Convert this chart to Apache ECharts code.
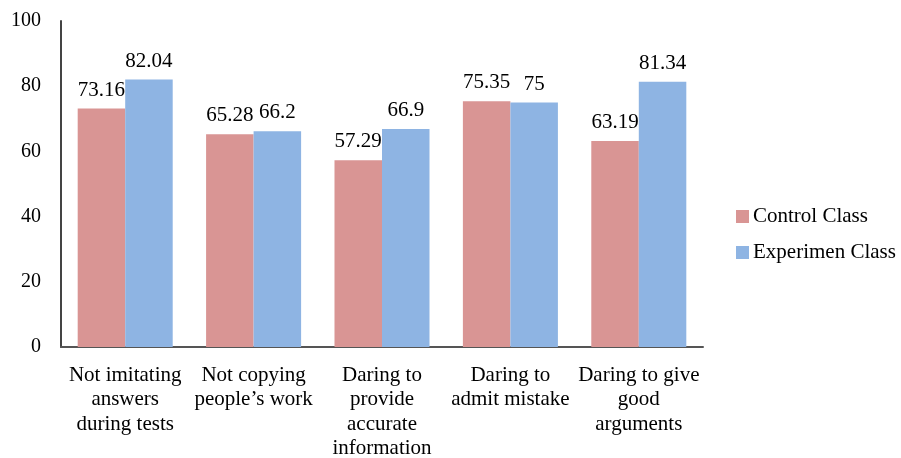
<!DOCTYPE html>
<html>
<head>
<meta charset="utf-8">
<script src="https://cdn.jsdelivr.net/npm/echarts@6/dist/echarts.min.js"></script>
<style>
  html, body { margin: 0; padding: 0; background: #fff; }
  #chart { width: 901px; height: 458px; }
</style>
</head>
<body>
<div id="chart"></div>
<script>
const categories = [
  'Not imitating\nanswers\nduring tests',
  'Not copying\npeople\u2019s work',
  'Daring to\nprovide\naccurate\ninformation',
  'Daring to\nadmit mistake',
  'Daring to give\ngood\narguments'
];
const controlClass = [73.16, 65.28, 57.29, 75.35, 63.19];
const experimenClass = [82.04, 66.2, 66.9, 75, 81.34];
const yTicks = [0, 20, 40, 60, 80, 100];

const font = 'Liberation Serif, Times New Roman, serif';
const chart = echarts.init(document.getElementById('chart'));

const labelStyle = {
  show: true,
  position: 'top',
  distance: 8,
  fontFamily: font,
  fontSize: 21,
  color: '#000',
  formatter: p => String(p.value)
};

chart.setOption({
  animation: false,
  textStyle: { fontFamily: font },
  grid: { left: 61, right: 198, top: 21, bottom: 111, outerBoundsMode: 'none', containLabel: false },
  legend: {
    orient: 'vertical',
    left: 736,
    top: 206,
    padding: 0,
    itemWidth: 13,
    itemHeight: 13,
    itemGap: 15,
    icon: 'rect',
    textStyle: { fontFamily: font, fontSize: 21, color: '#000', padding: [0, 0, 0, -1] },
    data: ['Control Class', 'Experimen Class']
  },
  xAxis: {
    type: 'category',
    data: categories,
    axisLine: { lineStyle: { color: '#555', width: 2 } },
    axisTick: { show: false },
    axisLabel: {
      interval: 0,
      margin: 16,
      fontFamily: font,
      fontSize: 21,
      lineHeight: 24.5,
      color: '#000'
    }
  },
  yAxis: {
    type: 'value',
    min: yTicks[0],
    max: yTicks[yTicks.length - 1],
    interval: 20,
    splitLine: { show: false },
    axisLine: { show: true, lineStyle: { color: '#444', width: 2 } },
    axisTick: { show: false },
    axisLabel: {
      margin: 20,
      fontFamily: font,
      fontSize: 20,
      color: '#000'
    }
  },
  series: [
    {
      name: 'Control Class',
      type: 'bar',
      data: controlClass,
      barGap: '0%',
      barCategoryGap: '26%',
      itemStyle: { color: '#D99594' },
      label: labelStyle
    },
    {
      name: 'Experimen Class',
      type: 'bar',
      data: experimenClass,
      barGap: '0%',
      barCategoryGap: '26%',
      itemStyle: { color: '#8EB4E3' },
      label: labelStyle
    }
  ]
});
</script>
</body>
</html>
